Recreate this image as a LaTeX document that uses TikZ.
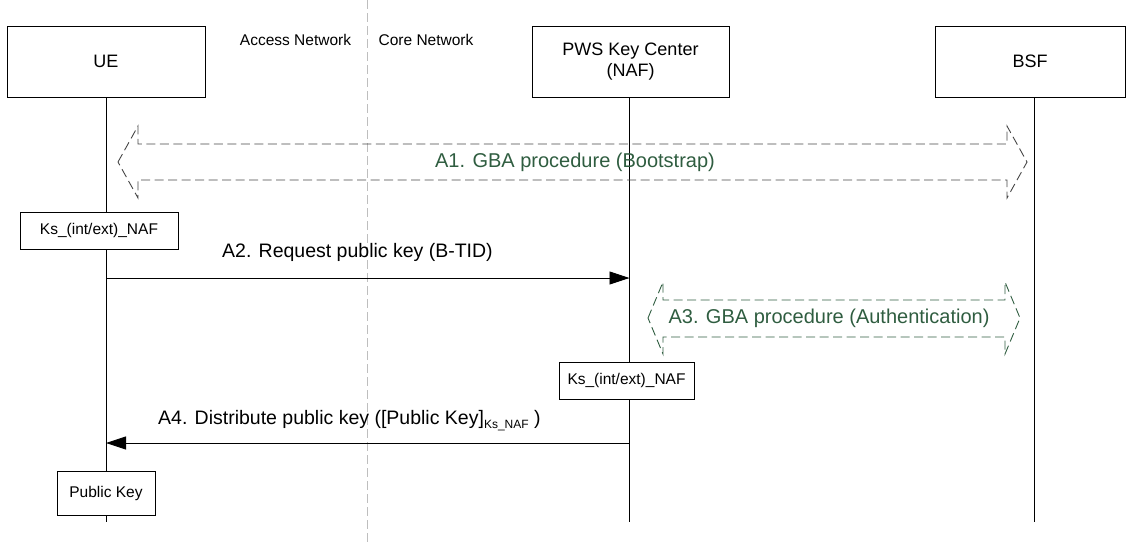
\documentclass[tikz,border=0pt]{standalone}
\usepackage{fontspec}
\setmainfont{Liberation Sans}
\usetikzlibrary{arrows.meta}
\definecolor{agreen}{RGB}{47,93,64}
\definecolor{agray}{RGB}{70,70,70}
\definecolor{sepgray}{RGB}{190,190,190}
\tikzset{
  entity/.style={draw=black, line width=0.9pt, fill=white, minimum height=71pt, align=center, inner sep=0pt, font=\fontsize{18}{21}\selectfont},
  keybox/.style={draw=black, line width=0.9pt, fill=white, minimum height=37pt, inner sep=0pt, font=\fontsize{15.5}{17}\selectfont},
  lifeline/.style={line width=0.9pt, black},
  msg/.style={line width=0.9pt, -{Triangle[length=20pt,width=13pt]}},
  msglabel/.style={anchor=west, inner sep=0pt, font=\fontsize{19.5}{22}\selectfont},
  netlabel/.style={inner sep=0pt, font=\fontsize{15.5}{17}\selectfont},
  blockA/.style={dashed, dash pattern=on 9pt off 4.5pt, line width=0.9pt},
  proclabel/.style={inner sep=0pt, text=agreen, font=\fontsize{20}{22}\selectfont}
}
\begin{document}
\begin{tikzpicture}[x=1pt,y=-1pt]
\useasboundingbox (0,0) rectangle (1126,542);
% separator
\coordinate (sepTop) at (367,0);
\coordinate (sepBot) at (367,542);
\draw[sepgray, line width=0.8pt, dash pattern=on 9pt off 4pt] (sepTop) -- (sepBot);
\node[netlabel] (acc) at (295.5,40) {Access Network};
\node[netlabel] (core) at (426,40) {Core Network};
% lifeline ends
\coordinate (ueEnd) at (106,522);
\coordinate (pwsEnd) at (629.5,522);
\coordinate (bsfEnd) at (1034,522);
% entities
\node[entity, minimum width=198pt] (ue) at (106,61.5) {UE};
\node[entity, minimum width=197pt] (pws) at (630.5,61.5) {PWS Key Center\\(NAF)};
\node[entity, minimum width=190pt] (bsf) at (1030,61.5) {BSF};
\draw[lifeline] (ue.south) -- (ueEnd);
\draw[lifeline] (pws.south -| pwsEnd) -- (pwsEnd);
\draw[lifeline] (bsf.south -| bsfEnd) -- (bsfEnd);
% A1 block arrow
\draw[blockA, agray] (118,162) -- (138,126) -- (138,144) -- (1007,144) -- (1007,126) -- (1027,162) -- (1007,198) -- (1007,180) -- (138,180) -- (138,198) -- cycle;
\node[proclabel] (a1) at (575,162) {A1. GBA procedure (Bootstrap)};
% Ks box UE
\node[keybox, minimum width=158pt] (ksue) at (99,230.5) {Ks\_(int/ext)\_NAF};
% A2
\coordinate (a2s) at (106,278);
\coordinate (a2e) at (629.5,278);
\draw[msg] (a2s) -- (a2e);
\node[msglabel] (a2) at (222,252) {A2. Request public key (B-TID)};
% A3 block arrow
\draw[blockA, agreen] (648,318) -- (663,282) -- (663,300) -- (1005,300) -- (1005,282) -- (1020,318) -- (1005,354) -- (1005,337) -- (663,337) -- (663,354) -- cycle;
\node[proclabel] (a3) at (829,318) {A3. GBA procedure (Authentication)};
% Ks box PWS
\node[keybox, minimum width=135pt] (kspws) at (626.5,380.5) {Ks\_(int/ext)\_NAF};
% A4
\coordinate (a4s) at (629.5,443);
\coordinate (a4e) at (106,443);
\draw[msg] (a4s) -- (a4e);
\node[msglabel] (a4) at (158,421) {A4. Distribute public key ([Public Key]\raisebox{-4pt}{\fontsize{12}{12}\selectfont Ks\_NAF} )};
% Public key box
\node[keybox, minimum width=98pt, minimum height=44pt] (pk) at (106,493) {Public Key};
\end{tikzpicture}
\end{document}
